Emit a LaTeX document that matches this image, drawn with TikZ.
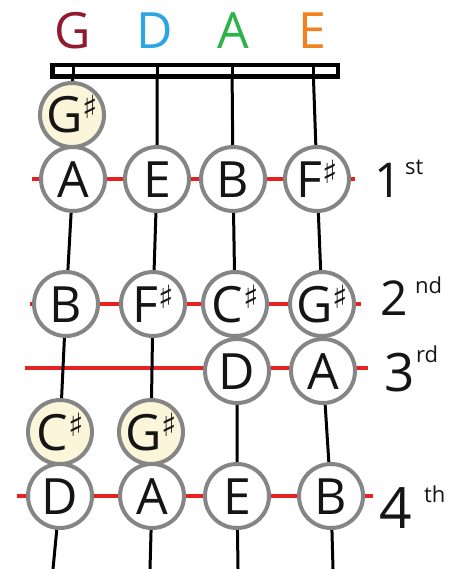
\documentclass[tikz,border=0pt]{standalone}
\usepackage{fontspec}
\setmainfont{Open Sans}
\newfontfamily\symf{DejaVu Sans}
\definecolor{ringgrey}{HTML}{858585}
\definecolor{cream}{HTML}{FBF6DA}
\definecolor{fretred}{HTML}{E52222}
\definecolor{ink}{HTML}{151515}
\definecolor{gcol}{HTML}{8E1B2E}
\definecolor{dcol}{HTML}{2AA6E2}
\definecolor{acol}{HTML}{2DB34B}
\definecolor{ecol}{HTML}{F2821F}
\newcommand{\mysharp}{\raisebox{14pt}{\symf\fontsize{32}{32}\selectfont ♯}}
\begin{document}
\begin{tikzpicture}[x=1pt,y=-1pt,
  notec/.style={circle, draw=ringgrey, line width=4pt, fill=white, minimum size=64pt, inner sep=0pt},
  extrac/.style={notec, fill=cream},
  fretline/.style={draw=fretred, line width=3.5pt},
  stringline/.style={draw=black, line width=3pt},
  lbl/.style={anchor=base, inner sep=0pt, font=\fontsize{50}{50}\selectfont, text=ink},
  ordnum/.style={anchor=base west, inner sep=0pt, text=ink},
  ordsup/.style={anchor=base west, inner sep=0pt, text=ink, font=\fontsize{22}{22}\selectfont},
  nutbox/.style={draw=black, line width=4.5pt, fill=white}
]
\useasboundingbox (0,0) rectangle (463,569);
% coordinates
\coordinate (tG) at (73,65); \coordinate (tD) at (157,65);
\coordinate (tA) at (232,65); \coordinate (tE) at (313,65);
\coordinate (bG) at (53,569); \coordinate (bD) at (150,569);
\coordinate (bA) at (238,569); \coordinate (bE) at (333,569);
\coordinate (f1l) at (32,179); \coordinate (f1r) at (355,179);
\coordinate (f2l) at (30,304); \coordinate (f2r) at (361,304);
\coordinate (f3l) at (25,368); \coordinate (f3r) at (368,368);
\coordinate (f4l) at (17,496); \coordinate (f4r) at (373,496);
% fret lines
\draw[fretline] (f1l) -- (f1r);
\draw[fretline] (f2l) -- (f2r);
\draw[fretline] (f3l) -- (f3r);
\draw[fretline] (f4l) -- (f4r);
% circle positions
\coordinate (pG0) at (72,115);
\coordinate (p11) at (73,179); \coordinate (p12) at (157,179); \coordinate (p13) at (233,179); \coordinate (p14) at (317,179);
\coordinate (p21) at (66,304); \coordinate (p22) at (153,304); \coordinate (p23) at (235,304); \coordinate (p24) at (322,304);
\coordinate (p33) at (237,371); \coordinate (p34) at (323,371);
\coordinate (pc1) at (60,432); \coordinate (pc2) at (151,432);
\coordinate (p41) at (60,496); \coordinate (p42) at (152,496); \coordinate (p43) at (237,496); \coordinate (p44) at (331,496);
% strings
\draw[stringline] (tG) -- (pG0) -- (p11) -- (p21) -- (pc1) -- (p41) -- (bG);
\draw[stringline] (tD) -- (p12) -- (p22) -- (pc2) -- (p42) -- (bD);
\draw[stringline] (tA) -- (p13) -- (p23) -- (p33) -- (p43) -- (bA);
\draw[stringline] (tE) -- (p14) -- (p24) -- (p34) -- (p44) -- (bE);
% nut
\node[nutbox, minimum width=285.5pt, minimum height=11.5pt, inner sep=0pt] (nut) at (195,71) {};
\foreach \c in {tG,tD,tA,tE} \draw[stringline] (\c) -- ++(0,12);
% circles
\node[extrac] (G0) at (pG0) {};
\node[notec] (n11) at (p11) {}; \node[notec] (n12) at (p12) {};
\node[notec] (n13) at (p13) {}; \node[notec] (n14) at (p14) {};
\node[notec] (n21) at (p21) {}; \node[notec] (n22) at (p22) {};
\node[notec] (n23) at (p23) {}; \node[notec] (n24) at (p24) {};
\node[notec] (n33) at (p33) {}; \node[notec] (n34) at (p34) {};
\node[extrac] (c1) at (pc1) {}; \node[extrac] (c2) at (pc2) {};
\node[notec] (n41) at (p41) {}; \node[notec] (n42) at (p42) {};
\node[notec] (n43) at (p43) {}; \node[notec] (n44) at (p44) {};
% letters
\node[lbl] (tG0) at ([yshift=-18pt]G0.center) {G\mysharp};
\node[lbl] (t11) at ([yshift=-18pt]n11.center) {A};
\node[lbl] (t12) at ([yshift=-18pt]n12.center) {E};
\node[lbl] (t13) at ([yshift=-18pt]n13.center) {B};
\node[lbl] (t14) at ([yshift=-18pt]n14.center) {F\mysharp};
\node[lbl] (t21) at ([yshift=-18pt]n21.center) {B};
\node[lbl] (t22) at ([yshift=-18pt]n22.center) {F\mysharp};
\node[lbl] (t23) at ([yshift=-18pt]n23.center) {C\mysharp};
\node[lbl] (t24) at ([yshift=-18pt]n24.center) {G\mysharp};
\node[lbl] (t33) at ([yshift=-18pt]n33.center) {D};
\node[lbl] (t34) at ([yshift=-18pt]n34.center) {A};
\node[lbl] (tc1) at ([yshift=-18pt]c1.center) {C\mysharp};
\node[lbl] (tc2) at ([yshift=-18pt]c2.center) {G\mysharp};
\node[lbl] (t41) at ([yshift=-18pt]n41.center) {D};
\node[lbl] (t42) at ([yshift=-18pt]n42.center) {A};
\node[lbl] (t43) at ([yshift=-18pt]n43.center) {E};
\node[lbl] (t44) at ([yshift=-18pt]n44.center) {B};
% header
\node[lbl, text=gcol] (hG) at (73,49) {G};
\node[lbl, text=dcol] (hD) at (155,49) {D};
\node[lbl, text=acol] (hA) at (233,49) {A};
\node[lbl, text=ecol] (hE) at (312,49) {E};
% fret numbers
\node[ordnum, font=\fontsize{48}{48}\selectfont] (o1) at (374,197) {1};
\node[ordsup] (s1) at (405,175) {st};
\node[ordnum, font=\fontsize{48}{48}\selectfont] (o2) at (380,315) {2};
\node[ordsup] (s2) at (415,293) {nd};
\node[ordnum, font=\fontsize{53}{53}\selectfont] (o3) at (384,391) {3};
\node[ordsup] (s3) at (416,362) {rd};
\node[ordnum, font=\fontsize{57}{57}\selectfont] (o4) at (379,528) {4};
\node[ordsup] (s4) at (424,502) {th};
\end{tikzpicture}
\end{document}
